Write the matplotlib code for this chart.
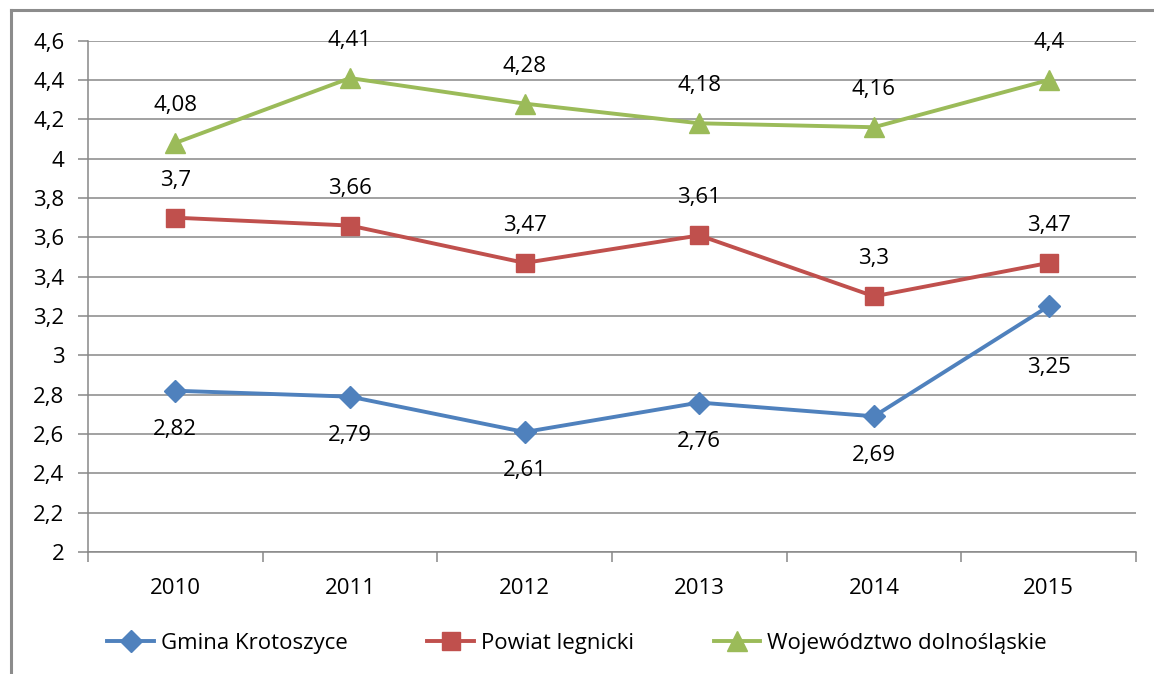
import matplotlib.pyplot as plt
from matplotlib.lines import Line2D
from matplotlib.ticker import FuncFormatter, FixedLocator

years = ['2010', '2011', '2012', '2013', '2014', '2015']
gmina = [2.82, 2.79, 2.61, 2.76, 2.69, 3.25]
powiat = [3.70, 3.66, 3.47, 3.61, 3.30, 3.47]
wojew = [4.08, 4.41, 4.28, 4.18, 4.16, 4.40]
names = ['Gmina Krotoszyce', 'Powiat legnicki', 'Województwo dolnośląskie']

plt.rcParams['font.family'] = ['Open Sans', 'DejaVu Sans']
fs = 16

W, H = 1154, 674
fig = plt.figure(figsize=(W / 100, H / 100), dpi=100)
ax = fig.add_axes([88 / W, 1 - 552 / H, (1136 - 88) / W, (552 - 40.7) / H])

def comma(v, pos=None):
    return ('%g' % round(v, 2)).replace('.', ',')

x = list(range(len(years)))
series = [
    (gmina, '#4F81BD', 'D', 11, -1),
    (powiat, '#C0504D', 's', 12.5, 1),
    (wojew, '#9BBB59', '^', 15, 1),
]
for (vals, col, mk, ms, side), name in zip(series, names):
    ax.plot(x, vals, color=col, lw=2.8, marker=mk, ms=ms, label=name, zorder=3)
    for i, v in enumerate(vals):
        off = 27 * side if side > 0 else -28
        if side < 0 and i == len(vals) - 1:
            off = -44  # last blue label sits lower in the original
        ax.annotate(comma(v), (x[i], v), xytext=(0, off), textcoords='offset points',
                    ha='center', va='center', fontsize=fs, color='black')

ax.set_xlim(-0.5, 5.5)
ax.set_ylim(2, 4.6)
ax.set_yticks([2 + 0.2 * i for i in range(14)])
ax.yaxis.set_major_formatter(FuncFormatter(comma))
ax.grid(axis='y', color='#888888', lw=1.1)
ax.set_axisbelow(True)

ax.set_xticks(x)
ax.set_xticklabels(years)
ax.xaxis.set_minor_locator(FixedLocator([i - 0.5 for i in range(7)]))
ax.tick_params(axis='x', which='major', length=0, pad=19, labelsize=fs)
ax.tick_params(axis='x', which='minor', length=7, color='#888888', width=1.1)
ax.tick_params(axis='y', length=7, color='#888888', width=1.1, labelsize=fs, pad=10)

for s in ['top', 'right']:
    ax.spines[s].set_visible(False)
for s in ['left', 'bottom']:
    ax.spines[s].set_color('#888888')
    ax.spines[s].set_linewidth(1.1)

ax.legend(loc='center', bbox_to_anchor=(0.5, (H - 643) / H), bbox_transform=fig.transFigure,
          ncol=3, frameon=False, fontsize=fs, handlelength=2.1, handletextpad=0.3,
          columnspacing=3.6)

# outer chart frame (left and top edges visible)
fig.add_artist(Line2D([11 / W, 11 / W], [0, 1 - 10 / H], color='#8c8c8c', lw=2.2, transform=fig.transFigure))
fig.add_artist(Line2D([11 / W, 1], [1 - 10 / H, 1 - 10 / H], color='#8c8c8c', lw=2.2, transform=fig.transFigure))

fig.savefig('out.png', dpi=100)
